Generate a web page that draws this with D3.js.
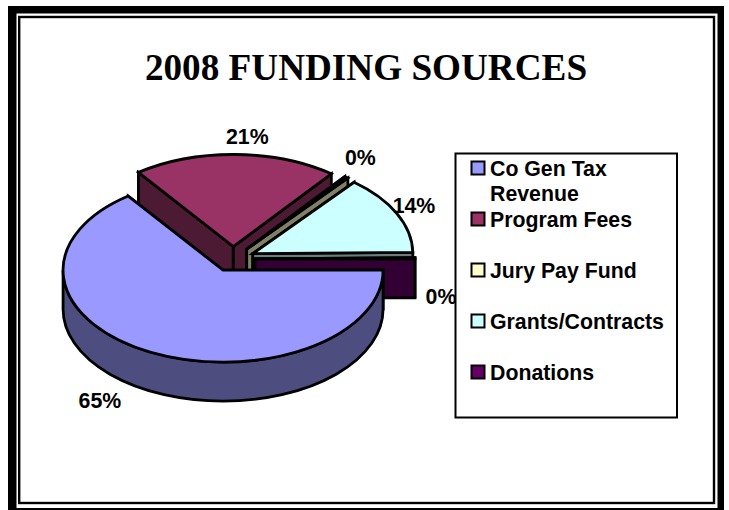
<!DOCTYPE html>
<html>
<head>
<meta charset="utf-8">
<style>
  html, body { margin: 0; padding: 0; background: #fff; overflow: hidden; }
  svg { display: block; }
  .title { font-family: "Liberation Serif", serif; font-weight: bold; font-size: 37.2px; }
  .lbl { font-family: "Liberation Sans", Arial, sans-serif; font-weight: bold; font-size: 21.3px; }
</style>
<script src="https://cdnjs.cloudflare.com/ajax/libs/d3/7.8.5/d3.min.js"></script>
</head>
<body>
<div id="chart"></div>
<script>
const title = '2008 FUNDING SOURCES'
const categories = ['Co Gen Tax|Revenue', 'Program Fees', 'Jury Pay Fund', 'Grants/Contracts', 'Donations']
const values = [64.9, 20.6, 0.4, 13.9, 0.2]
const valueLabels = ['65%', '21%', '0%', '14%', '0%']
const colors = ['#9999FF', '#993366', '#FFFFCC', '#CCFFFF', '#660066']

const width = 729
const height = 510

const svg = d3.select('#chart').append('svg').attr('width', width).attr('height', height)

// Frame
svg.append('rect').attr('x', 8).attr('y', 6).attr('width', 716).attr('height', 510).attr('fill', '#000')
svg.append('rect').attr('x', 16.5).attr('y', 13.5).attr('width', 701).attr('height', 494.5).attr('fill', '#fff')
svg.append('rect').attr('x', 19.2).attr('y', 17).attr('width', 694.8).attr('height', 486)
  .attr('fill', '#fff').attr('stroke', '#000').attr('stroke-width', 2.4)

svg.append('text').attr('class', 'title')
  .attr('x', 366).attr('y', 80).attr('text-anchor', 'middle').text(title)

// Pie: a flat ellipse with walls, slices pushed out from the middle
const cx = 233
const cy = 259
const rx = 160
const ry = 92
const depth = 39
const explodeX = 22
const explodeY = 12.5

const sx = d3.scaleLinear().domain([-1, 1]).range([-rx, rx])
const sy = d3.scaleLinear().domain([-1, 1]).range([-ry, ry])

const pie = d3.pie().sort(null).startAngle(Math.PI / 2).endAngle(Math.PI / 2 + 2 * Math.PI)
const slices = pie(values).map((d, i) => {
  const mid = (d.startAngle + d.endAngle) / 2
  return {
    ...d,
    i,
    mid,
    ox: cx + explodeX * Math.sin(mid),
    oy: cy - explodeY * Math.cos(mid),
  }
})

const px = (d, a) => d.ox + sx(Math.sin(a))
const py = (d, a) => d.oy + sy(-Math.cos(a))

const arcTo = (d, a0, a1, dy = 0) => {
  const large = a1 - a0 > Math.PI ? 1 : 0
  return `A${rx},${ry} 0 ${large} 1 ${px(d, a1)},${py(d, a1) + dy}`
}
const topPath = (d) =>
  `M${d.ox},${d.oy}L${px(d, d.startAngle)},${py(d, d.startAngle)}` +
  arcTo(d, d.startAngle, d.endAngle) + 'Z'
const cutPath = (d, a) =>
  `M${d.ox},${d.oy}L${px(d, a)},${py(d, a)}L${px(d, a)},${py(d, a) + depth}L${d.ox},${d.oy + depth}Z`
const rimPath = (d) => {
  // only the front half of the rim can be seen
  const a0 = Math.max(d.startAngle, Math.PI / 2)
  const a1 = Math.min(d.endAngle, 1.5 * Math.PI)
  if (a1 <= a0) return null
  const large = a1 - a0 > Math.PI ? 1 : 0
  return `M${px(d, a0)},${py(d, a0)}` + arcTo(d, a0, a1) +
    `L${px(d, a1)},${py(d, a1) + depth}` +
    `A${rx},${ry} 0 ${large} 0 ${px(d, a0)},${py(d, a0) + depth}Z`
}
const shade = (c) => {
  const k = d3.rgb(c)
  return d3.rgb(k.r * 0.5, k.g * 0.5, k.b * 0.5).formatHex()
}

// back slices first, the big front slice last
const order = [1, 2, 3, 4, 0]
const g = svg.append('g')
  .attr('stroke', '#000').attr('stroke-width', 2.8).attr('stroke-linejoin', 'miter')

order.forEach((i) => {
  const d = slices[i]
  const wall = shade(colors[i])
  g.append('path').attr('d', cutPath(d, d.startAngle)).attr('fill', wall)
  g.append('path').attr('d', cutPath(d, d.endAngle)).attr('fill', wall)
  const rim = rimPath(d)
  if (rim) g.append('path').attr('d', rim).attr('fill', wall)
  g.append('path').attr('d', topPath(d)).attr('fill', colors[i])
})

// Value labels sit off the rim at the middle of each slice
const labelNudge = [[-51, 56], [12, -11], [14, -12], [17, -1], [26, 46]]
svg.append('g').selectAll('text')
  .data(slices)
  .join('text')
  .attr('class', 'lbl')
  .attr('text-anchor', 'middle')
  .attr('x', (d) => px(d, d.mid) + labelNudge[d.i][0])
  .attr('y', (d) => py(d, d.mid) + labelNudge[d.i][1])
  .text((d) => valueLabels[d.i])

// Legend
const legend = svg.append('g')
legend.append('rect').attr('x', 455.5).attr('y', 153.5).attr('width', 221.5).attr('height', 264)
  .attr('fill', '#fff').attr('stroke', '#000').attr('stroke-width', 2)

const legendY = d3.scalePoint().domain(d3.range(categories.length)).range([168, 372])
const rows = legend.selectAll('g').data(categories).join('g')
  .attr('transform', (d, i) => `translate(0,${legendY(i)})`)
rows.append('rect').attr('x', 471.5).attr('y', -6.5).attr('width', 13).attr('height', 13)
  .attr('fill', (d, i) => colors[i]).attr('stroke', '#000').attr('stroke-width', 2)
rows.each(function (d) {
  d3.select(this).selectAll('text').data(d.split('|')).join('text')
    .attr('class', 'lbl')
    .attr('x', 490)
    .attr('y', (t, j) => 7.5 + j * 25.5)
    .text((t) => t)
})
</script>
</body>
</html>
